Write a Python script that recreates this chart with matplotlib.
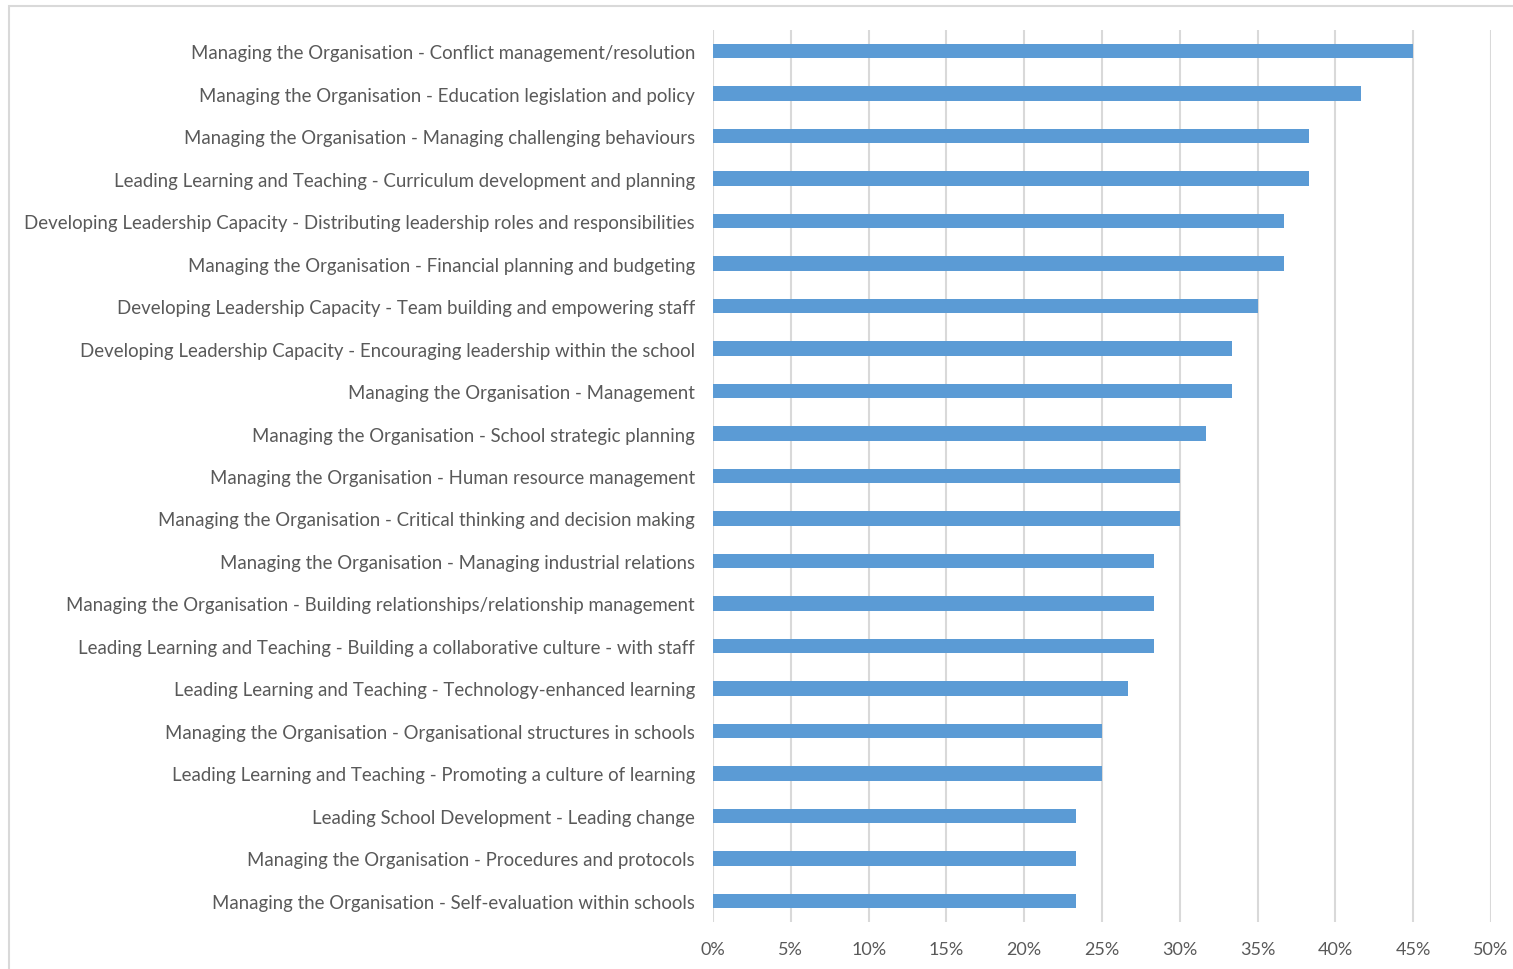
import matplotlib

matplotlib.use("Agg")
import matplotlib.pyplot as plt
from matplotlib.patches import Rectangle
from matplotlib.ticker import FuncFormatter, MultipleLocator

# categories listed top to bottom
CATEGORIES = [
    "Managing the Organisation - Conflict management/resolution",
    "Managing the Organisation - Education legislation and policy",
    "Managing the Organisation - Managing challenging behaviours",
    "Leading Learning and Teaching - Curriculum development and planning",
    "Developing Leadership Capacity - Distributing leadership roles and responsibilities",
    "Managing the Organisation - Financial planning and budgeting",
    "Developing Leadership Capacity - Team building and empowering staff",
    "Developing Leadership Capacity - Encouraging leadership within the school",
    "Managing the Organisation - Management",
    "Managing the Organisation - School strategic planning",
    "Managing the Organisation - Human resource management",
    "Managing the Organisation - Critical thinking and decision making",
    "Managing the Organisation - Managing industrial relations",
    "Managing the Organisation - Building relationships/relationship management",
    "Leading Learning and Teaching - Building a collaborative culture - with staff",
    "Leading Learning and Teaching - Technology-enhanced learning",
    "Managing the Organisation - Organisational structures in schools",
    "Leading Learning and Teaching - Promoting a culture of learning",
    "Leading School Development - Leading change",
    "Managing the Organisation - Procedures and protocols",
    "Managing the Organisation - Self-evaluation within schools",
]
SHARES = [
    45.0, 41.67, 38.33, 38.33, 36.67, 36.67, 35.0, 33.33, 33.33, 31.67, 30.0,
    30.0, 28.33, 28.33, 28.33, 26.67, 25.0, 25.0, 23.33, 23.33, 23.33,
]

BAR_COLOR = "#5B9BD5"
TEXT_COLOR = "#595959"
GRID_COLOR = "#D9D9D9"

plt.rcParams["font.family"] = ["Lato", "DejaVu Sans"]

fig = plt.figure(figsize=(15.13, 9.70), dpi=100)
W, H = 1513, 970
ax = fig.add_axes([713 / W, 1 - 923 / H, (1491 - 713) / W, (923 - 31) / H])

n = len(CATEGORIES)
ypos = list(range(n))[::-1]
ax.barh(ypos, SHARES, height=0.34, color=BAR_COLOR, zorder=3)

ax.set_xlim(0, 50)
ax.set_ylim(-0.5, n - 0.5)
ax.xaxis.set_major_locator(MultipleLocator(5))
ax.xaxis.set_major_formatter(FuncFormatter(lambda v, _: f"{v:.0f}%"))
ax.grid(axis="x", color=GRID_COLOR, linewidth=1.5, zorder=0)
ax.set_yticks(ypos)
ax.set_yticklabels(CATEGORIES)

for s in ax.spines.values():
    s.set_visible(False)
ax.tick_params(axis="both", length=0, colors=TEXT_COLOR, labelsize=13)
ax.tick_params(axis="y", pad=13, labelsize=13.4)
ax.tick_params(axis="x", pad=14)

# outer chart border (cut off at right and bottom like the reference)
fig.patches.append(
    Rectangle((9 / W, -0.1), 1.2, 1 - 7 / H + 0.1, transform=fig.transFigure,
              fill=False, edgecolor="#D9D9D9", linewidth=1.5)
)

fig.savefig("out.png", dpi=100)
